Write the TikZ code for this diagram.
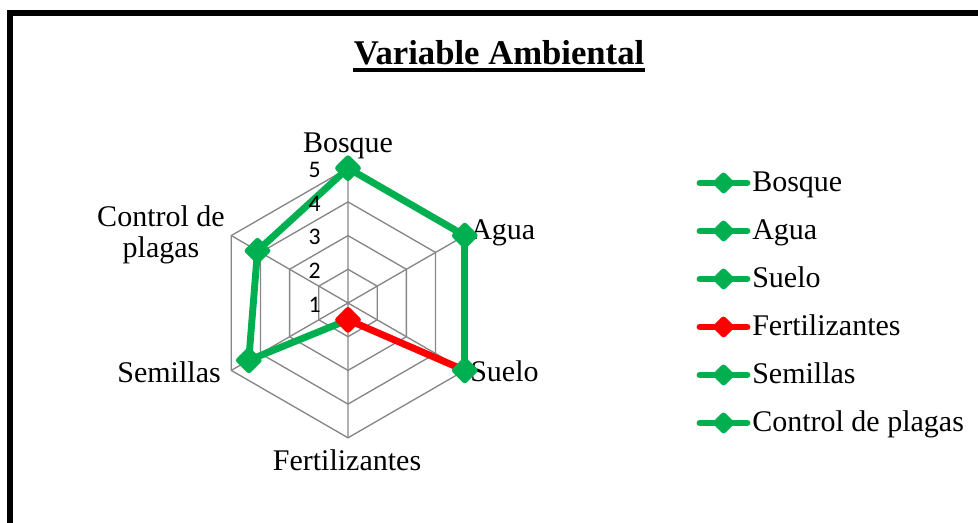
\documentclass[tikz,border=0pt]{standalone}
\usepackage{fontspec}
\setmainfont{Liberation Serif}
\newfontfamily\numfont{Carlito}
\usepackage{tikz}
\definecolor{xl_green}{RGB}{0, 176, 80}
\definecolor{xl_red}{RGB}{255, 0, 0}
\definecolor{xl_grey}{RGB}{134, 134, 134}
\tikzstyle{gm}=[rectangle,rotate=45,rounded corners=2pt,fill=xl_green,
  inner sep=0pt,minimum width=14.8pt,minimum height=14.8pt]
\tikzstyle{rm}=[rectangle,rotate=45,rounded corners=2pt,fill=xl_red,
  inner sep=0pt,minimum width=14.8pt,minimum height=14.8pt]
\tikzstyle{gk}=[rectangle,rotate=45,rounded corners=2pt,fill=xl_green,
  inner sep=0pt,minimum width=12.2pt,minimum height=12.2pt]
\tikzstyle{rk}=[rectangle,rotate=45,rounded corners=2pt,fill=xl_red,
  inner sep=0pt,minimum width=12.2pt,minimum height=12.2pt]
\tikzstyle{gl}=[draw=xl_green,line width=5.2pt,line cap=round]
\tikzstyle{rl}=[draw=xl_red,line width=5.2pt,line cap=round]
\tikzstyle{grid}=[draw=xl_grey,line width=1pt]
\tikzstyle{cat}=[font=\fontsize{22.5pt}{23.25pt}\selectfont,inner sep=0pt]
\tikzstyle{num}=[font=\numfont\fontsize{17.8pt}{20pt}\selectfont,inner sep=0pt,anchor=east]
\tikzstyle{none}=[]

\begin{document}
\begin{tikzpicture}[x=0.75pt,y=0.75pt]
    \useasboundingbox (0, 0) rectangle (978, 523);
    \clip (0, 0) rectangle (978, 523);
    \begin{scope}[shift={(348, 220)}]
            % grid
            \draw [style=grid] (90:33.7) -- (30:33.7) -- (-30:33.7) -- (-90:33.7) -- (210:33.7) -- (150:33.7) -- cycle;
            \draw [style=grid] (90:67.4) -- (30:67.4) -- (-30:67.4) -- (-90:67.4) -- (210:67.4) -- (150:67.4) -- cycle;
            \draw [style=grid] (90:101.1) -- (30:101.1) -- (-30:101.1) -- (-90:101.1) -- (210:101.1) -- (150:101.1) -- cycle;
            \draw [style=grid] (90:134.8) -- (30:134.8) -- (-30:134.8) -- (-90:134.8) -- (210:134.8) -- (150:134.8) -- cycle;
            \draw [style=grid] (0, 0) -- (90:134.8) (0, 0) -- (30:134.8) (0, 0) -- (-30:134.8)
                  (0, 0) -- (-90:134.8) (0, 0) -- (210:134.8) (0, 0) -- (150:134.8);
            \node [style=cat, anchor=base] (36) at (0, 150) {Bosque};
            \node [style=cat, anchor=base west] (37) at (122, 63) {Agua};
            \node [style=cat, anchor=base west] (38) at (122, -79) {Suelo};
            \node [style=cat, anchor=base] (39) at (-1, -167.7) {Fertilizantes};
            \node [style=cat, anchor=base east] (40) at (-127, -80) {Semillas};
            \node [style=cat, anchor=north east, align=center] (41) at (-123, 98) {Control de\\plagas};
            % series
            \node [style=none] (0) at (90:134.8) {};
            \node [style=none] (1) at (30:134.8) {};
            \node [style=none] (2) at (-30:134.8) {};
            \node [style=none] (3) at (-90:16.85) {};
            \node [style=none] (4) at (210:114.6) {};
            \node [style=none] (5) at (150:104.5) {};
            \draw [style=gl] (0.center) to (1.center);
            \draw [style=gl] (1.center) to (2.center);
            \draw [style=rl] (2.center) to (3.center);
            \draw [style=gl] (3.center) to (4.center);
            \draw [style=gl] (4.center) to (5.center);
            \draw [style=gl] (5.center) to (0.center);
            \node [style=gm] (6) at (0) {};
            \node [style=gm] (7) at (1) {};
            \node [style=gm] (8) at (2) {};
            \node [style=rm] (9) at (3) {};
            \node [style=gm] (10) at (4) {};
            \node [style=gm] (11) at (5) {};
            % axis values on top
            \node [style=num] (42) at (-27, -1.5) {1};
            \node [style=num] (43) at (-27, 32.2) {2};
            \node [style=num] (44) at (-27, 65.9) {3};
            \node [style=num] (45) at (-27, 99.4) {4};
            \node [style=num] (46) at (-27, 133.3) {5};
    \end{scope}
            % legend
            \node [style=none] (12) at (700, 340) {};
            \node [style=none] (18) at (747, 340) {};
            \node [style=none] (13) at (700, 292) {};
            \node [style=none] (19) at (747, 292) {};
            \node [style=none] (14) at (700, 244) {};
            \node [style=none] (20) at (747, 244) {};
            \node [style=none] (15) at (700, 196) {};
            \node [style=none] (21) at (747, 196) {};
            \node [style=none] (16) at (700, 148) {};
            \node [style=none] (22) at (747, 148) {};
            \node [style=none] (17) at (700, 100) {};
            \node [style=none] (23) at (747, 100) {};
            \draw [style=gl] (12.center) to (18.center);
            \draw [style=gl] (13.center) to (19.center);
            \draw [style=gl] (14.center) to (20.center);
            \draw [style=rl] (15.center) to (21.center);
            \draw [style=gl] (16.center) to (22.center);
            \draw [style=gl] (17.center) to (23.center);
            \node [style=gk] (24) at (723.5, 340) {};
            \node [style=gk] (25) at (723.5, 292) {};
            \node [style=gk] (26) at (723.5, 244) {};
            \node [style=rk] (27) at (723.5, 196) {};
            \node [style=gk] (28) at (723.5, 148) {};
            \node [style=gk] (29) at (723.5, 100) {};
            \node [style=cat, anchor=base west] (30) at (752, 331) {Bosque};
            \node [style=cat, anchor=base west] (31) at (752, 283) {Agua};
            \node [style=cat, anchor=base west] (32) at (752, 235) {Suelo};
            \node [style=cat, anchor=base west] (33) at (752, 187) {Fertilizantes};
            \node [style=cat, anchor=base west] (34) at (752, 139) {Semillas};
            \node [style=cat, anchor=base west] (35) at (752, 91) {Control de plagas};
            % title
            \node [inner sep=0pt, anchor=base, font=\bfseries\fontsize{26pt}{30pt}\selectfont] (47) at (499, 458) {Variable Ambiental};
            \draw [line width=2.4pt] ([yshift=-3.75pt]47.base west) to ([yshift=-3.75pt]47.base east);
            % frame
            \draw [line width=3.8pt] (10, -10) -- (10, 510) -- (990, 510);
\end{tikzpicture}
\end{document}
